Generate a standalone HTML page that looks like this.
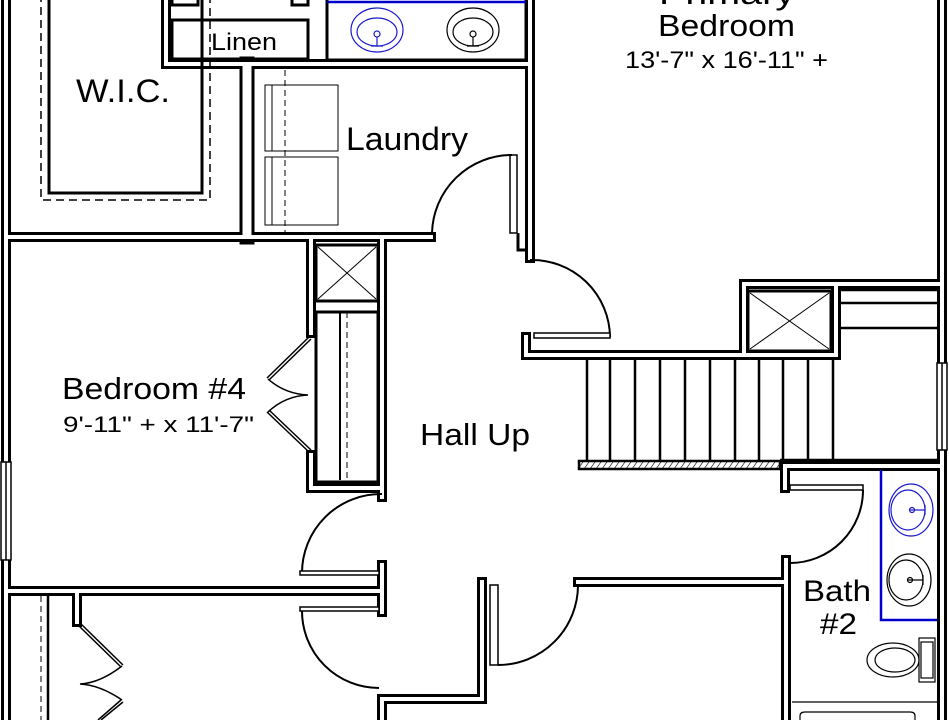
<!DOCTYPE html>
<html><head><meta charset="utf-8"><style>
html,body{margin:0;padding:0;background:#fff;}
svg{display:block;}
text{font-family:"Liberation Sans",Arial,sans-serif;fill:#000;}
</style></head><body>
<svg width="949" height="720" viewBox="0 0 949 720" xmlns="http://www.w3.org/2000/svg">
<defs>
<pattern id="hatch" width="6" height="10" patternUnits="userSpaceOnUse" patternTransform="skewX(-35)">
<rect width="6" height="10" fill="#fff"/><line x1="0" y1="0" x2="0" y2="10" stroke="#000" stroke-width="1.5"/>
</pattern>
</defs>
<rect width="949" height="720" fill="#fff"/>

<g fill="none" stroke-linecap="square">
<g stroke="#000" stroke-width="10">
  <path d="M6 -5V725"/>
  <path d="M942 -5V725"/>
  <path d="M6 237H431"/>
  <path d="M166 -5V64H530"/>
  <path d="M530 -5V258"/>
  <path d="M382 241V497"/>
  <path d="M311 241V333"/>
  <path d="M311 455V488H382"/>
  <path d="M526 337V355H744V284H942"/>
  <path d="M744 355H836V284"/>
  <path d="M785 488V466H942"/>
  <path d="M786 560V725"/>
  <path d="M578 582H786"/>
  <path d="M482 582V699H382V725"/>
  <path d="M6 591H382"/>
  <path d="M382 565V612"/>
  <path d="M77 591V622"/>
</g>
<g stroke="#000" stroke-width="15"><path d="M247 64V237"/></g>
<g stroke="#fff" stroke-width="4">
  <path d="M6 -5V725"/>
  <path d="M942 -5V725"/>
  <path d="M6 237H431"/>
  <path d="M166 -5V64H530"/>
  <path d="M530 -5V258"/>
  <path d="M382 241V497"/>
  <path d="M311 241V333"/>
  <path d="M311 455V488H382"/>
  <path d="M526 337V355H744V284H942"/>
  <path d="M744 355H836V284"/>
  <path d="M785 488V466H942"/>
  <path d="M786 560V725"/>
  <path d="M578 582H786"/>
  <path d="M482 582V699H382V725"/>
  <path d="M6 591H382"/>
  <path d="M382 565V612"/>
  <path d="M77 591V622"/>
</g>
<g stroke="#fff" stroke-width="9"><path d="M247 70V231"/></g>
</g>

<g stroke="#000" stroke-width="1.5" fill="#fff">
  <rect x="1" y="462" width="10" height="98"/><line x1="6" y1="462" x2="6" y2="560"/>
  <rect x="937" y="363" width="10" height="87"/><line x1="942" y1="363" x2="942" y2="450"/>
</g>

<rect x="41" y="-5" width="169" height="205" fill="none" stroke="#000" stroke-width="1.5" stroke-dasharray="8,5"/>
<rect x="49" y="-5" width="153" height="198" fill="none" stroke="#000" stroke-width="3"/>

<rect x="172" y="20" width="136" height="39" fill="none" stroke="#000" stroke-width="3"/>
<path d="M172 -2V5H198V-2M292 -2V5H308V-2" fill="none" stroke="#000" stroke-width="3"/>
<rect x="327" y="-3" width="199" height="63" fill="none" stroke="#000" stroke-width="3"/>
<line x1="327" y1="2" x2="526" y2="2" stroke="#00c" stroke-width="2.5"/>
<g fill="none" stroke="#1a1acc" stroke-width="1.2">
<ellipse cx="377" cy="30" rx="26" ry="22"/><ellipse cx="377" cy="32" rx="20" ry="14"/><circle cx="377" cy="34" r="3"/><path d="M377 37V46M371 46H383"/>
</g>
<g fill="none" stroke="#000" stroke-width="1.2">
<ellipse cx="473" cy="30" rx="26" ry="22"/><ellipse cx="473" cy="32" rx="20" ry="14"/><circle cx="473" cy="34" r="3"/><path d="M473 37V46M467 46H479"/>
</g>

<g fill="none" stroke="#000" stroke-width="1">
<rect x="265" y="85" width="73" height="66"/><line x1="272" y1="85" x2="272" y2="151"/>
<rect x="265" y="157" width="73" height="68"/><line x1="272" y1="157" x2="272" y2="225"/>
</g>
<line x1="285" y1="70" x2="285" y2="233" stroke="#000" stroke-width="1" stroke-dasharray="6,4"/>

<rect x="510" y="155" width="7" height="78" fill="#fff" stroke="#000" stroke-width="1.5"/>
<path d="M432 233A80 80 0 0 1 512 155" fill="none" stroke="#000" stroke-width="2"/>
<path d="M518 233V250H526" fill="none" stroke="#000" stroke-width="3"/>

<rect x="316" y="245" width="62" height="56" fill="#fff" stroke="#000" stroke-width="3"/>
<path d="M318 247L376 299M376 247L318 299" stroke="#000" stroke-width="1"/>

<line x1="340" y1="312" x2="340" y2="480" stroke="#000" stroke-width="2"/>
<line x1="347" y1="312" x2="347" y2="480" stroke="#000" stroke-width="1" stroke-dasharray="6,4"/>
<rect x="316" y="312" width="62" height="170" fill="none" stroke="#000" stroke-width="3"/>
<g fill="none" stroke="#000" stroke-width="1.5">
<path d="M309 337L267 378M311 339L269 380"/><path d="M268 379Q285 394 308 395Q285 396 268 412"/>
<path d="M267 412L309 452M269 410L311 450"/>
</g>

<path d="M530 260A78 78 0 0 1 610 337" fill="none" stroke="#000" stroke-width="2"/>
<rect x="534" y="333" width="76" height="5" fill="#fff" stroke="#000" stroke-width="1.5"/>

<rect x="748" y="291" width="83" height="60" fill="#fff" stroke="#000" stroke-width="3"/>
<path d="M750 293L829 349M829 293L750 349" stroke="#000" stroke-width="1"/>
<g stroke="#000" stroke-width="2.5">
<line x1="840" y1="290" x2="937" y2="290"/><line x1="840" y1="303" x2="937" y2="303"/><line x1="840" y1="328" x2="937" y2="328"/>
</g>

<g stroke="#000" stroke-width="2.5">
<line x1="587" y1="358" x2="587" y2="460"/><line x1="610" y1="358" x2="610" y2="460"/><line x1="635" y1="358" x2="635" y2="460"/>
<line x1="660" y1="358" x2="660" y2="460"/><line x1="685" y1="358" x2="685" y2="460"/><line x1="710" y1="358" x2="710" y2="460"/>
<line x1="735" y1="358" x2="735" y2="460"/><line x1="759" y1="358" x2="759" y2="460"/><line x1="783" y1="358" x2="783" y2="460"/>
<line x1="808" y1="358" x2="808" y2="460"/><line x1="833" y1="358" x2="833" y2="460"/>
<line x1="780" y1="460" x2="940" y2="460"/>
</g>
<rect x="579" y="461" width="201" height="8" fill="url(#hatch)" stroke="#000" stroke-width="2.5"/>

<rect x="790" y="485" width="73" height="5" fill="#fff" stroke="#000" stroke-width="1.5"/>
<path d="M863 490A73 73 0 0 1 790 563" fill="none" stroke="#000" stroke-width="2"/>

<path d="M881 470V620H937" fill="none" stroke="#00c" stroke-width="2.5"/>
<g fill="none" stroke="#1a1acc" stroke-width="1.2">
<ellipse cx="911" cy="510" rx="22" ry="26"/><ellipse cx="908" cy="510" rx="17" ry="20"/><path d="M910 510H925M925 505V515"/><circle cx="912" cy="510" r="2.5"/>
</g>
<g fill="none" stroke="#000" stroke-width="1.2">
<ellipse cx="909" cy="580" rx="22" ry="26"/><ellipse cx="906" cy="580" rx="17" ry="20"/><path d="M908 580H923M923 575V585"/><circle cx="910" cy="580" r="2.5"/>
<ellipse cx="893" cy="660" rx="26" ry="17"/><ellipse cx="895" cy="660" rx="20" ry="12"/>
<rect x="919" y="638" width="16" height="44"/><rect x="921" y="642" width="12" height="36"/>
<path d="M792 702H937M800 720V716Q800 712 805 712H910Q915 712 915 716V720"/>
</g>

<rect x="490" y="585" width="8" height="80" fill="#fff" stroke="#000" stroke-width="1.5"/>
<path d="M578 585A80 80 0 0 1 498 665" fill="none" stroke="#000" stroke-width="2"/>

<path d="M382 494A79 79 0 0 0 302 573" fill="none" stroke="#000" stroke-width="2"/>
<rect x="300" y="571" width="79" height="4" fill="#fff" stroke="#000" stroke-width="1.5"/>
<rect x="300" y="607" width="79" height="4" fill="#fff" stroke="#000" stroke-width="1.5"/>
<path d="M302 611A77 77 0 0 0 379 688" fill="none" stroke="#000" stroke-width="2"/>

<line x1="48" y1="596" x2="48" y2="720" stroke="#000" stroke-width="2.5"/>
<line x1="41" y1="596" x2="41" y2="720" stroke="#000" stroke-width="1" stroke-dasharray="6,4"/>
<g fill="none" stroke="#000" stroke-width="1.5">
<path d="M78 625L121 667M80 623L123 665"/><path d="M122 666Q100 683 80 684Q100 685 122 700"/>
<path d="M121 700L98 720M123 702L101 720"/>
</g>

<text x="211" y="50" font-size="24" textLength="66" lengthAdjust="spacingAndGlyphs">Linen</text>
<text x="76" y="102" font-size="32" textLength="94" lengthAdjust="spacingAndGlyphs">W.I.C.</text>
<text x="346" y="150" font-size="32" textLength="122" lengthAdjust="spacingAndGlyphs">Laundry</text>
<text x="659" y="4" font-size="31" textLength="136" lengthAdjust="spacingAndGlyphs">Primary</text>
<text x="658" y="36" font-size="31" textLength="137" lengthAdjust="spacingAndGlyphs">Bedroom</text>
<text x="625" y="68" font-size="24" textLength="203" lengthAdjust="spacingAndGlyphs">13'-7" x 16'-11" +</text>
<text x="62" y="399" font-size="31" textLength="184" lengthAdjust="spacingAndGlyphs">Bedroom #4</text>
<text x="63" y="432" font-size="22" textLength="191" lengthAdjust="spacingAndGlyphs">9'-11" + x 11'-7"</text>
<text x="420" y="445" font-size="31" textLength="110" lengthAdjust="spacingAndGlyphs">Hall Up</text>
<text x="803" y="601" font-size="30" textLength="68" lengthAdjust="spacingAndGlyphs">Bath</text>
<text x="820" y="634" font-size="30" textLength="37" lengthAdjust="spacingAndGlyphs">#2</text>
</svg>
</body></html>
